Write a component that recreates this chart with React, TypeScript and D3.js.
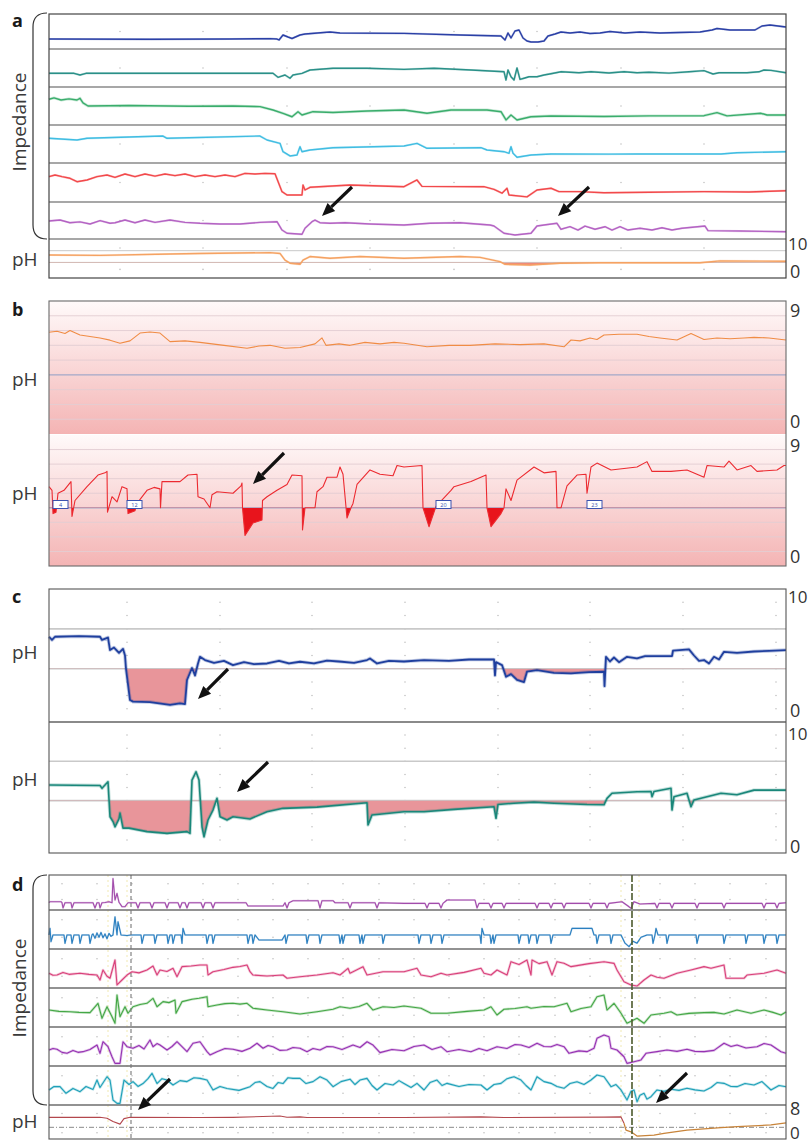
import * as d3 from "d3";

type P = [number, number];

// time in seconds from the start of each excerpt (same width for all panels)
const tDomain: [number, number] = [0, 737];

// ---------- panel a : six impedance channels (0-40 units) + pH ----------
const aCh1: P[] = [[0,11.4],[101,11.1],[181,11.4],[221,11.8],[228,11.4],[230,10.3],[234,16],[239,13.7],[243,12],[251,16],[256,17.1],[281,19.4],[291,18.3],[355,17.9],[411,16],[452,14.9],[456,10.3],[459,18.3],[462,12.6],[466,20.6],[470,21.7],[474,12.6],[478,9.1],[482,8],[489,8],[495,9.1],[499,14.9],[506,17.1],[512,19.4],[521,18.3],[531,19.4],[541,17.7],[551,18.3],[561,20],[576,18.3],[591,19.4],[611,18.3],[631,18.9],[651,19.4],[663,21.7],[668,23.4],[681,21.7],[706,21.7],[713,26.3],[721,27.4],[737,25.1]];
const aCh2: P[] = [[0,14.4],[25,14.4],[31,12.6],[37,14.4],[150,14.4],[224,14.4],[229,10.2],[236,12.6],[241,9.2],[244,12.6],[253,14.4],[261,17.9],[284,19.7],[318,19.7],[355,18.6],[385,19.7],[422,17.9],[455,16.1],[457,7.4],[459,17.9],[462,10.8],[465,7.4],[468,20],[471,8],[475,9.2],[480,10.8],[488,10.8],[495,12.6],[502,14],[512,16.1],[530,15],[542,16.1],[560,14.8],[575,16.1],[588,15],[600,15.6],[620,14.6],[640,16],[655,17.2],[664,13.7],[670,15],[698,15],[710,16],[715,17.9],[722,17.5],[737,15]];
const aCh3: P[] = [[0,27.1],[5,28.5],[12,26.3],[20,27.5],[28,26.3],[31,28.1],[34,23.2],[39,20],[80,20.5],[140,19.8],[184,20],[211,19.3],[224,15.8],[234,12.3],[243,8.7],[249,14],[253,10.5],[264,14],[284,13.2],[318,14.7],[355,15.8],[378,12.3],[402,15.8],[438,15.8],[452,14],[457,5.3],[462,10.5],[468,5.3],[482,8.7],[502,9.5],[555,9],[600,9.6],[655,9.8],[668,13],[678,9.6],[712,12.3],[718,10.5],[737,10.5]];
const aCh4: P[] = [[0,26],[28,24.2],[38,26],[114,28.4],[118,26],[211,28.4],[218,24.2],[231,20.7],[234,11.9],[241,7.4],[248,8.4],[251,17.2],[253,11.9],[261,13.7],[284,16.1],[355,17.9],[368,20.7],[378,15.5],[432,16.1],[438,13.7],[455,11.9],[460,10.2],[462,17.2],[464,10.2],[468,6],[482,8.4],[502,9.5],[560,9.3],[588,9.5],[630,9.5],[672,9.5],[688,10.8],[737,11.9]];
const aCh5: P[] = [[0,26],[6,27.7],[13,26],[21,24.3],[28,20.8],[38,22.6],[48,26],[58,27.7],[66,25.3],[76,28.7],[86,26],[96,28.7],[106,26.5],[116,28.7],[126,27],[136,28.7],[146,26],[156,27.7],[166,26],[176,27.7],[186,26],[196,29.4],[206,28.7],[216,29.4],[226,29],[233,10.6],[238,7.2],[253,7.2],[254,17.4],[256,12.3],[261,15.1],[301,17.4],[355,15.7],[368,22.6],[373,16],[435,15.7],[445,13],[453,9],[458,14.1],[460,7.2],[478,5.3],[488,12.3],[502,14.1],[510,10.6],[530,10.6],[555,9.5],[600,10],[655,10.6],[700,10.3],[737,11.6]];
const aCh6: P[] = [[0,19.5],[11,20.5],[21,17.6],[31,18.5],[41,16.2],[51,19.8],[61,17],[66,17.6],[76,20.5],[86,17.6],[96,20.5],[106,18],[121,20.5],[136,18],[151,17],[171,16.2],[191,16.2],[211,18],[228,18.7],[233,9.7],[238,6.2],[253,5.1],[256,11.6],[263,18.7],[266,20.5],[271,17.6],[281,17],[296,17.6],[321,16.2],[355,15.1],[381,17],[411,17.6],[441,15.1],[445,14],[455,6.2],[466,4.3],[482,6.2],[488,14],[495,15.1],[508,17],[512,10.5],[521,13.3],[529,9.7],[536,14],[546,10.5],[556,13.3],[563,9.7],[571,13.3],[579,9.7],[591,11.6],[603,9.7],[613,12.2],[623,9.7],[633,11.6],[656,14],[659,9],[691,8.6],[737,7.9]];
const aPH: P[] = [[0,5.9],[51,5.8],[121,6.15],[151,6.3],[221,6.5],[231,6.3],[236,4.6],[241,3.8],[251,3.5],[254,4.6],[261,5.5],[281,5.05],[311,5.5],[355,5.05],[411,5.5],[431,5.3],[451,4.2],[456,3.5],[481,3.3],[511,3.8],[551,3.9],[651,3.9],[671,4.4],[737,4.3]];
const aColors = ["#2b40a6", "#2a9088", "#3aad6c", "#41bde2", "#f2494b", "#b463c3"];
const aGridT = [71, 154, 238, 321, 405, 488, 572, 655];

// ---------- panel b : two pH channels (0-9) ----------
const bUpper: P[] = [[0,6.88],[8,6.95],[16,6.8],[21,7.0],[31,6.7],[41,6.6],[51,6.5],[61,6.35],[71,6.14],[81,6.3],[91,6.83],[101,6.9],[111,6.83],[121,6.25],[136,6.3],[151,6.2],[175,6.0],[198,5.8],[210,5.95],[221,6.0],[236,5.8],[251,5.85],[266,6.1],[273,6.5],[277,6.0],[290,6.1],[301,6.0],[316,6.2],[331,6.1],[345,6.2],[355,6.14],[378,5.9],[400,6.0],[421,6.0],[446,6.1],[471,6.05],[495,6.1],[515,5.9],[522,6.36],[531,6.3],[541,6.5],[548,6.4],[555,6.7],[570,6.75],[588,6.75],[600,6.6],[611,6.5],[628,6.36],[642,6.8],[655,6.4],[668,6.5],[681,6.45],[695,6.5],[705,6.54],[720,6.5],[737,6.36]];
const bLower: P[] = [[0,5.45],[3,5.2],[4,3.6],[7,3.7],[9,5.0],[15,5.2],[22,5.8],[23,3.4],[26,4.5],[38,5.45],[49,6.25],[56,6.4],[58,6.5],[58.5,3.7],[63,4.76],[68,4.4],[73,5.45],[78,5.3],[79,3.6],[86,3.8],[88,4.3],[98,5.2],[105,5.4],[111,5.3],[111.5,4.0],[113,5.8],[131,5.8],[139,6.25],[148,6.3],[149,4.76],[155,4.6],[161,4.0],[163,4.9],[168,5.1],[184,5.0],[192,5.5],[193,5.7],[193.5,4.0],[196,2.1],[204,2.95],[213,3.16],[213.5,4.5],[218,4.76],[228,5.2],[238,5.6],[243,6.25],[253,6.2],[253.5,2.47],[256,4.0],[266,4.0],[268,5.1],[274,5.45],[278,6.1],[288,6.1],[291,6.8],[294,6.3],[298,3.3],[302,4.0],[304,4.3],[308,5.6],[321,6.6],[331,6.3],[344,6.2],[348,6.9],[355,6.8],[373,6.9],[374,4.0],[380,2.7],[387,4.1],[402,5.2],[405,5.45],[422,5.8],[437,6.25],[438,4.0],[442,2.7],[452,3.6],[455,4.0],[457,5.3],[462,4.5],[468,5.9],[485,6.8],[495,6.4],[507,6.5],[508,4.0],[512,4.0],[518,5.5],[528,6.25],[537,6.3],[538,5.0],[542,6.8],[548,7.07],[562,6.6],[588,6.8],[598,7.17],[603,6.5],[622,6.5],[638,6.6],[655,6.1],[658,6.9],[675,6.8],[680,7.2],[688,6.6],[702,6.9],[708,6.5],[728,6.6],[735,6.9],[737,6.9]];
const bMarkers = [{ t: 4, label: "4" }, { t: 78, label: "12" }, { t: 387, label: "20" }, { t: 538, label: "23" }];
const bLevels = [1, 2, 3, 5, 6, 7, 8];

// ---------- panel c : two pH channels (0-10) ----------
const cUpper: P[] = [[0,6.41],[3,6.17],[6,6.41],[30,6.45],[51,6.41],[53,6.17],[59,6.35],[61,5.41],[65,5.6],[70,5.2],[74,5.5],[76,5.0],[77,4.0],[81,1.65],[84,1.53],[101,1.5],[121,1.28],[131,1.4],[136,1.35],[138,3.16],[143,4.06],[146,3.5],[149,4.4],[151,4.9],[156,4.66],[165,4.45],[175,4.6],[184,4.28],[195,4.5],[205,4.35],[218,4.4],[230,4.6],[240,4.4],[251,4.53],[265,4.4],[278,4.62],[290,4.55],[305,4.45],[318,4.66],[321,4.78],[328,4.4],[340,4.6],[355,4.55],[375,4.65],[400,4.6],[420,4.7],[445,4.7],[446,3.5],[447,4.5],[453,4.28],[457,3.4],[462,3.6],[468,3.16],[475,3.0],[478,3.78],[488,3.9],[505,3.7],[522,3.66],[540,3.75],[555,3.78],[555.5,2.7],[557,4.9],[561,4.55],[565,4.85],[570,4.5],[578,4.9],[588,4.78],[596,4.95],[605,4.96],[623,4.96],[624,5.36],[640,5.46],[645,5.0],[650,4.6],[655,4.66],[660,4.4],[665,4.9],[670,4.7],[675,5.28],[688,5.2],[705,5.3],[720,5.35],[737,5.41]];
const cLower: P[] = [[0,5.19],[51,5.15],[53,4.94],[59,5.44],[61,2.77],[64,2.4],[66,2.0],[70,2.6],[71,3.05],[74,1.9],[80,1.9],[98,1.63],[118,1.5],[138,1.63],[141,1.5],[143,5.57],[147,6.2],[150,5.57],[153,2.0],[155,1.24],[159,2.52],[164,3.28],[168,4.17],[171,2.77],[178,2.52],[184,2.77],[201,2.6],[218,3.15],[234,3.41],[268,3.5],[318,3.84],[319,2.14],[323,2.9],[355,3.15],[375,3.15],[405,3.33],[445,3.53],[447,2.65],[449,3.7],[465,3.8],[485,3.88],[505,3.8],[538,3.7],[555,3.68],[558,4.17],[563,4.56],[588,4.68],[602,4.7],[603,4.3],[605,4.7],[622,4.94],[623,3.28],[625,4.3],[638,4.56],[642,3.53],[645,4.05],[672,4.56],[688,4.45],[705,4.8],[737,4.8]];
const cGridT = [78, 171, 263, 356, 449, 541, 634, 727];

// ---------- panel d : six impedance channels (0-40 units) + pH (0-8) ----------
const dCh1: P[] = [[0,8.3],[1,9.5],[12,9.5],[13,8.3],[14,2.3],[16,8.3],[22,8.3],[23,2.3],[25,8.3],[44,8.3],[46,2.3],[48,8.3],[50,8.3],[51,2.3],[53,8.3],[56,8.5],[60,9.5],[63,8.3],[64,36],[66,11.4],[68,19],[70,8.8],[73,3.8],[76,3.8],[79,8.3],[87,8.3],[89,2.3],[91,8.3],[101,8.3],[103,2.3],[105,8.3],[116,8.3],[118,2.3],[120,8.3],[129,8.3],[131,2.3],[133,8.3],[136,8.3],[138,2.3],[140,8.3],[152,8.3],[154,2.3],[156,8.3],[162,8.3],[164,2.3],[166,8.3],[197,8.3],[199,4.6],[234,4.6],[236,8.3],[238,2.3],[240,8.3],[244,10.6],[269,10.6],[271,2.3],[273,10.6],[284,10.6],[286,8.3],[299,8.3],[301,2.3],[303,8.3],[326,8.3],[328,2.3],[330,8.3],[355,7.6],[376,7.6],[378,2.3],[380,7.6],[390,7.6],[392,2.3],[394,7.6],[398,11.4],[426,11.4],[428,2.3],[430,7.6],[440,7.6],[442,2.3],[444,7.6],[453,7.6],[455,2.3],[457,7.6],[486,7.6],[488,2.3],[490,7.6],[500,7.6],[502,2.3],[504,7.6],[513,7.6],[515,2.3],[517,7.6],[540,7.6],[542,2.3],[544,7.6],[556,7.6],[558,2.3],[560,7.6],[573,9.5],[579,4.6],[582,1.9],[585,9.5],[591,6.8],[606,7.6],[608,2.3],[610,7.6],[621,7.6],[623,2.3],[625,7.6],[646,7.6],[648,2.3],[650,7.6],[673,7.6],[675,2.3],[677,7.6],[713,7.6],[715,2.3],[717,7.6],[726,7.6],[728,2.3],[730,7.6],[737,8.3]];
const dCh2: P[] = [[0,14.4],[1,21.2],[2,7.5],[4,14.4],[15,14.4],[16,5.8],[18,14.4],[22,14.4],[23,5.8],[25,14.4],[30,14.4],[31,5.8],[33,14.4],[40,14.4],[41,5.8],[43,14.4],[44,15.5],[46,11],[48,16.5],[50,12],[52,17],[54,11.5],[56,15.5],[58,10.5],[60,16],[62,13],[64,14.4],[66,33],[68,14.4],[69,28],[72,14.4],[78,13.8],[82,14.4],[92,14.4],[93,5.8],[95,14.4],[105,14.4],[106,5.8],[108,14.4],[118,14.4],[119,5.8],[121,14.4],[123,14.4],[124,5.8],[126,14.4],[132,14.4],[133,5.8],[134,21.2],[136,14.4],[157,14.4],[158,5.8],[160,14.4],[163,14.4],[164,5.8],[166,14.4],[198,14.4],[199,5.8],[201,14.4],[203,14.4],[204,5.8],[206,14.4],[210,9.2],[233,9.2],[236,14.4],[237,5.8],[239,14.4],[257,14.4],[258,5.8],[260,14.4],[270,14.4],[271,5.8],[273,14.4],[290,14.4],[291,5.8],[293,14.4],[294,5.8],[296,14.4],[310,14.4],[311,5.8],[313,14.4],[314,5.8],[316,14.4],[333,14.4],[334,5.8],[336,14.4],[355,14.4],[369,14.4],[370,5.8],[372,14.4],[381,14.4],[382,5.8],[384,14.4],[392,14.4],[393,5.8],[395,14.4],[431,14.4],[432,5.8],[433,21.2],[435,14.4],[441,14.4],[442,5.8],[444,14.4],[445,5.8],[447,14.4],[469,14.4],[470,5.8],[472,14.4],[479,14.4],[480,5.8],[482,14.4],[487,14.4],[488,5.8],[490,14.4],[501,14.4],[502,5.8],[504,14.4],[521,14.4],[523,21.2],[543,21.2],[545,14.4],[547,14.4],[548,5.8],[550,14.4],[561,14.4],[562,5.8],[564,14.4],[572,14.4],[576,6],[580,2.4],[584,8],[588,6],[592,12],[598,14.4],[603,14.4],[604,5.8],[606,14.4],[607,21.2],[609,14.4],[617,14.4],[618,5.8],[620,14.4],[647,14.4],[648,5.8],[650,14.4],[674,14.4],[675,5.8],[677,14.4],[696,14.4],[697,5.8],[699,14.4],[714,14.4],[715,5.8],[717,14.4],[727,14.4],[728,5.8],[730,14.4],[737,14.4]];
const dCh3: P[] = [[0,15.1],[4,13],[8,13.3],[14,16],[20,14],[31,15.1],[40,14],[48,13.3],[51,8.2],[54,18.5],[58,12],[61,10],[66,28.7],[68,3.1],[73,8.2],[78,13.3],[83,16.7],[90,15.5],[98,18.5],[104,22.6],[108,13.3],[111,18.5],[118,17],[124,20.2],[128,11.6],[133,21.9],[142,22.5],[151,23.6],[158,23.6],[159,13.3],[164,16.7],[175,19],[184,21.2],[191,22],[198,23.6],[201,16.7],[204,13.3],[218,12.3],[234,13.3],[238,10],[251,11.6],[268,13.3],[284,15.7],[291,13.3],[299,20.2],[301,15.1],[314,21.9],[318,13.3],[334,16.7],[355,16.7],[368,20.2],[372,13.3],[382,11.6],[392,15.1],[398,13.3],[415,16],[432,20.2],[435,15.1],[442,13.3],[448,18.5],[458,13.3],[462,27],[470,24],[478,28.7],[482,13.3],[483,28.7],[490,25],[498,27],[503,13.3],[508,27],[515,25.3],[522,21.9],[540,25],[555,27],[565,25.3],[568,18.5],[575,6.5],[582,3.1],[588,2],[595,8.2],[602,13.3],[608,11],[615,10],[628,15.1],[642,18.5],[655,21.9],[662,20.2],[675,23.6],[677,10],[695,10],[698,13.3],[715,15.1],[728,18.5],[737,15.1]];
const dCh4: P[] = [[0,17.4],[10,16],[21,15.7],[30,15],[41,14.7],[49,24.3],[53,8.9],[58,20.8],[63,10.6],[66,3.8],[68,32.8],[71,10.6],[76,20.8],[79,14.1],[84,20.8],[91,23],[98,24.3],[104,29.4],[108,20.8],[114,26],[120,25],[126,27.7],[127,14.1],[133,26],[143,28.4],[150,29.5],[158,31.1],[159,20.8],[168,22.6],[176,24],[184,24.3],[191,23.5],[198,24.3],[204,19.2],[218,17.4],[234,15.7],[251,13.3],[268,15.7],[284,18.2],[291,20.8],[301,19.2],[310,21],[318,24.3],[324,17.4],[334,20.8],[345,20],[355,21.5],[372,19.2],[382,14.1],[398,14.1],[418,16],[435,17.4],[442,20.8],[448,12.3],[455,18.2],[466,19],[478,20.8],[482,19.2],[495,21],[505,20.8],[518,24.3],[522,15.7],[532,19],[542,20.8],[548,31.1],[555,32.8],[558,17.4],[565,24.3],[572,14.1],[578,3.8],[588,8.9],[595,3.8],[602,12.3],[615,14.1],[622,15.7],[628,12.3],[640,14],[655,14.7],[665,15],[675,13.3],[688,17.4],[702,14.1],[715,17.4],[724,15],[732,12.3],[737,15.4]];
const dCh5: P[] = [[0,16.4],[4,18],[8,17.1],[13,14],[18,13],[24,16],[29,14],[34,14.7],[41,17],[48,21.5],[51,13],[54,24.9],[59,19.8],[63,9.5],[66,2.7],[71,2.7],[74,24.9],[78,19.8],[84,18.2],[90,21],[95,17.5],[101,26.7],[104,19.8],[108,23],[111,21.5],[118,16.4],[123,20],[128,24.9],[133,19.8],[138,14.7],[144,23.3],[151,24.9],[158,14.7],[161,11.3],[168,14.7],[176,18],[184,17.1],[193,15],[201,18.2],[208,23.3],[214,18.2],[219,21],[224,19.8],[231,16],[238,16.4],[244,19],[251,18.2],[258,14.7],[264,18],[271,16.4],[278,20],[284,19.8],[293,17],[304,21.5],[311,19],[318,24.9],[324,21.5],[331,13.7],[343,17],[355,15.7],[365,20],[375,21.5],[383,17],[392,19.8],[398,14.7],[410,17],[422,14.7],[430,18],[438,15.7],[448,19.8],[458,18],[466,22],[472,21.5],[480,19],[488,23.3],[495,20],[502,19.8],[508,22],[515,19.8],[520,13],[530,15.5],[538,14.7],[545,18.2],[548,28.4],[555,31.8],[560,30],[562,18.2],[568,16.4],[575,9.5],[578,2.7],[585,4.4],[592,6.2],[597,13],[608,14.7],[618,16.4],[628,15],[638,17.1],[646,15],[655,14.7],[665,16],[675,23.3],[682,20],[688,21.5],[697,18.5],[708,19.8],[715,23],[722,21.5],[732,14.7],[737,13]];
const dCh6: P[] = [[0,15.4],[5,19],[11,18.8],[17,12],[24,17],[31,13.7],[37,19],[44,16],[48,25.6],[51,18],[58,29],[61,25.6],[64,5.1],[68,1.7],[71,1.7],[75,25.6],[80,21],[84,24],[89,19],[94,22],[99,27],[103,32.5],[108,22],[113,27],[118,25.6],[124,20.5],[131,25],[138,24],[145,28],[151,27.3],[158,25.6],[164,15.4],[171,19],[178,17],[190,15],[201,18.8],[206,23],[211,24],[218,19],[224,17],[229,23],[234,22],[239,28],[244,27.3],[251,27.3],[257,22],[264,24],[271,29],[278,25.6],[284,18.8],[292,24],[301,26.5],[306,21],[311,25.6],[318,27.3],[323,20],[328,15.4],[336,22],[344,20.5],[350,25],[355,22],[362,18],[368,22.2],[375,15.4],[381,23],[388,25.6],[393,20],[398,22.2],[410,19],[420,21],[432,20.5],[438,15.4],[445,21],[452,22.2],[458,27],[465,29],[472,25.6],[477,20],[482,15.4],[488,29],[495,24],[502,22.2],[508,19],[515,17.1],[521,22],[528,23.9],[535,21],[542,25.6],[548,30.8],[555,29],[562,18.8],[567,21],[572,15.4],[578,5.1],[582,14],[585,15.4],[588,3.4],[591,10],[595,12],[598,6],[602,8.5],[608,15.4],[615,14],[622,16.1],[630,15],[638,17.1],[646,15.5],[655,14.4],[662,18],[668,23],[675,22.2],[682,19],[688,18.8],[696,22],[705,20.5],[713,24],[722,15.4],[730,20],[737,18.8]];
const dPHBefore: P[] = [[0,5.1],[51,5.1],[58,4.9],[64,4.1],[71,3.5],[75,4.8],[81,5.1],[151,5.05],[184,5.1],[231,5.4],[238,5.1],[251,5.2],[258,5.05],[355,5.05],[432,5.2],[455,5.05],[555,5.15],[572,5.2],[575,3.7]];
const dPHAfter: P[] = [[575,3.7],[577,2.1],[582,1.7],[588,0.7],[605,0.9],[615,1.3],[638,2.1],[672,2.7],[688,2.9],[722,3.3],[737,3.8]];
const dColors = ["#a24cab", "#2a7fc0", "#d9417b", "#44a746", "#9632b2", "#1ea0b8"];
const dGridT = [13, 48, 83, 119, 154, 189, 224, 259, 294, 330, 365, 400, 435, 470, 506, 541, 576, 611, 646, 681, 717];
const dMarkT = [82, 583];

// ---------- layout ----------
const X0 = 49;
const X1 = 786;
const aEdges = [14, 49, 87, 125, 163, 202, 239, 278];
const dEdges = [875, 910, 949, 988, 1027, 1066, 1105, 1139];
const FONT = "'Open Sans', 'DejaVu Sans', sans-serif";

const x = d3.scaleLinear().domain(tDomain).range([X0, X1]);
const band = (top: number, bottom: number, max: number) =>
  d3.scaleLinear().domain([0, max]).range([bottom, top]);

type Scale = d3.ScaleLinear<number, number>;

const Trace = ({ data, y, color, width = 1.3, fuzz = 0 }: { data: P[]; y: Scale; color: string; width?: number; fuzz?: number }) => {
  const gen = d3.line<P>().x((d) => x(d[0])).y((d) => y(d[1]));
  const d = gen(data) ?? "";
  return (
    <g>
      {fuzz > 0 && <path d={d} fill="none" stroke={color} strokeWidth={fuzz} strokeOpacity={0.28} strokeLinejoin="round" />}
      <path d={d} fill="none" stroke={color} strokeWidth={width} strokeLinejoin="round" />
    </g>
  );
};

// area between a trace and a pH threshold, only where the trace is below it
const BelowFill = ({ id, data, y, level, color, bottom }: { id: string; data: P[]; y: Scale; level: number; color: string; bottom: number }) => {
  const area = d3.area<P>().x((d) => x(d[0])).y0(y(level)).y1((d) => y(d[1]));
  return (
    <g>
      <clipPath id={id}>
        <rect x={X0} y={y(level)} width={X1 - X0} height={bottom - y(level)} />
      </clipPath>
      <path d={area(data) ?? ""} fill={color} clipPath={`url(#${id})`} />
    </g>
  );
};

const Arrow = ({ t1, y1, t2, y2 }: { t1: number; y1: number; t2: number; y2: number }) => {
  const x1 = x(t1), x2 = x(t2);
  const a = Math.atan2(y2 - y1, x2 - x1);
  const L = 13, W = 5.5;
  const bx = x2 - L * Math.cos(a), by = y2 - L * Math.sin(a);
  const px = -Math.sin(a) * W, py = Math.cos(a) * W;
  return (
    <g>
      <line x1={x1} y1={y1} x2={bx} y2={by} stroke="#111" strokeWidth={3.2} />
      <path d={`M${x2},${y2}L${bx + px},${by + py}L${bx - px},${by - py}Z`} fill="#111" />
    </g>
  );
};

const Brace = ({ top, bottom }: { top: number; bottom: number }) => (
  <path d={`M47,${top}Q33,${top} 33,${top + 14}L33,${bottom - 14}Q33,${bottom} 47,${bottom}`} fill="none" stroke="#333" strokeWidth={1.2} />
);

const Letter = ({ y, s }: { y: number; s: string }) => (
  <text x={12} y={y} fontFamily={FONT} fontWeight={700} fontSize={18} fill="#1a1a1a">{s}</text>
);
const Label = ({ y, s }: { y: number; s: string }) => (
  <text x={12} y={y} fontFamily={FONT} fontSize={19} fill="#3a3a3a">{s}</text>
);
const RightNum = ({ y, s }: { y: number; s: string }) => (
  <text x={s.length > 1 ? 788 : 790} y={y} fontFamily={FONT} fontSize={s.length > 1 ? 17 : 18} fill="#333">{s}</text>
);
const Impedance = ({ cy }: { cy: number }) => (
  <text transform={`translate(26,${cy}) rotate(-90)`} textAnchor="middle" fontFamily={FONT} fontSize={19} fill="#3a3a3a">Impedance</text>
);

const PanelA = () => {
  const chans = [aCh1, aCh2, aCh3, aCh4, aCh5, aCh6];
  const ys = chans.map((_, i) => band(aEdges[i], aEdges[i + 1], 40));
  const yPH = band(aEdges[6], aEdges[7], 10);
  return (
    <g>
      {aGridT.map((t) =>
        [...ys.map((s) => s(20)), yPH(7.7), yPH(2.2)].map((cy, j) => (
          <circle key={`${t}-${j}`} cx={x(t)} cy={cy} r={0.8} fill="#c4c4c4" />
        ))
      )}
      {[7, 4].map((v) => (
        <line key={v} x1={X0} x2={X1} y1={yPH(v)} y2={yPH(v)} stroke="#c8c8c8" strokeWidth={1} />
      ))}
      {aEdges.slice(1, 7).map((e) => (
        <line key={e} x1={X0} x2={X1} y1={e} y2={e} stroke="#8a8a8a" strokeWidth={1.6} />
      ))}
      {chans.map((c, i) => (
        <Trace key={i} data={c} y={ys[i]} color={aColors[i]} width={1.4} fuzz={i === 2 ? 2.8 : 2.2} />
      ))}
      <BelowFill id="fa" data={aPH} y={yPH} level={4} color="#f08a7a" bottom={aEdges[7]} />
      <Trace data={aPH} y={yPH} color="#f5a262" width={1.4} fuzz={2.2} />
      <rect x={X0} y={aEdges[0]} width={X1 - X0} height={aEdges[7] - aEdges[0]} fill="none" stroke="#444" strokeWidth={1.2} />
      <Arrow t1={303} y1={187} t2={273} y2={216} />
      <Arrow t1={540} y1={187} t2={509} y2={216} />
      <Letter y={27} s="a" />
      <Brace top={13} bottom={239} />
      <Impedance cy={122} />
      <Label y={266} s="pH" />
      <RightNum y={250} s="10" />
      <RightNum y={278} s="0" />
    </g>
  );
};

const PanelB = () => {
  const yU = band(301, 434, 9);
  const yL = band(435, 566, 9);
  return (
    <g>
      <defs>
        <linearGradient id="pinkfade" x1="0" y1="0" x2="0" y2="1">
          <stop offset="0" stopColor="#fffafa" />
          <stop offset="1" stopColor="#f4b4b4" />
        </linearGradient>
      </defs>
      <rect x={X0} y={301} width={X1 - X0} height={133} fill="url(#pinkfade)" />
      <rect x={X0} y={435} width={X1 - X0} height={131} fill="url(#pinkfade)" />
      {[yU, yL].map((s, k) => (
        <g key={k}>
          {bLevels.map((v) => (
            <line key={v} x1={X0} x2={X1} y1={s(v)} y2={s(v)} stroke="#e2cdd2" strokeWidth={0.9} />
          ))}
          <line x1={X0} x2={X1} y1={s(4)} y2={s(4)} stroke="#a3a9c9" strokeWidth={1.3} />
        </g>
      ))}
      <Trace data={bUpper} y={yU} color="#f08c45" width={1.1} />
      <BelowFill id="fb" data={bLower} y={yL} level={4} color="#e8141c" bottom={566} />
      <Trace data={bLower} y={yL} color="#ec2a30" width={1.1} />
      {bMarkers.map((m) => (
        <g key={m.label}>
          <rect x={x(m.t)} y={yL(4.5)} width={x(m.t + 15) - x(m.t)} height={yL(3.95) - yL(4.5)} fill="#fff" stroke="#3b52b0" strokeWidth={1} />
          <text x={x(m.t + 7.5)} y={yL(3.95) - 1.8} textAnchor="middle" fontFamily={FONT} fontSize={5.5} fill="#3b52b0">{m.label}</text>
        </g>
      ))}
      <rect x={X0} y={301} width={X1 - X0} height={265} fill="none" stroke="#6a6a6a" strokeWidth={1.1} />
      <Arrow t1={235} y1={453} t2={204} y2={484} />
      <Letter y={316} s="b" />
      <Label y={386} s="pH" />
      <Label y={500} s="pH" />
      <RightNum y={317} s="9" />
      <RightNum y={428} s="0" />
      <RightNum y={452} s="9" />
      <RightNum y={563} s="0" />
    </g>
  );
};

const PanelC = () => {
  const yU = band(589, 722, 10);
  const yL = band(722, 853, 10);
  return (
    <g>
      {[yU, yL].map((s, k) => (
        <g key={k}>
          {cGridT.map((t) =>
            d3.range(1, 10).map((v) => <circle key={`${t}-${v}`} cx={x(t)} cy={s(v)} r={0.75} fill="#bdbdbd" />)
          )}
          {[7, 4].map((v) => (
            <line key={v} x1={X0} x2={X1} y1={s(v)} y2={s(v)} stroke="#c9c9c9" strokeWidth={1.6} />
          ))}
        </g>
      ))}
      <BelowFill id="fc1" data={cUpper} y={yU} level={4} color="#e8959a" bottom={722} />
      <BelowFill id="fc2" data={cLower} y={yL} level={4} color="#e8959a" bottom={853} />
      <Trace data={cUpper} y={yU} color="#1f3f9e" width={1.8} fuzz={3.6} />
      <Trace data={cLower} y={yL} color="#1a877a" width={1.6} fuzz={3.4} />
      <line x1={X0} x2={X1} y1={722} y2={722} stroke="#8a8a8a" strokeWidth={2} />
      <rect x={X0} y={589} width={X1 - X0} height={264} fill="none" stroke="#555" strokeWidth={1.1} />
      <Arrow t1={179} y1={669} t2={149} y2={699} />
      <Arrow t1={219} y1={762} t2={188} y2={792} />
      <Letter y={603} s="c" />
      <Label y={659} s="pH" />
      <Label y={786} s="pH" />
      <RightNum y={603} s="10" />
      <RightNum y={717} s="0" />
      <RightNum y={740} s="10" />
      <RightNum y={853} s="0" />
    </g>
  );
};

const PanelD = () => {
  const chans = [dCh1, dCh2, dCh3, dCh4, dCh5, dCh6];
  const ys = chans.map((_, i) => band(dEdges[i], dEdges[i + 1], 40));
  const yPH = band(dEdges[6], dEdges[7], 8);
  return (
    <g>
      {dGridT.map((t) =>
        [...ys.flatMap((s) => [s(12), s(30)]), yPH(6), yPH(1.5)].map((cy, j) => (
          <circle key={`${t}-${j}`} cx={x(t)} cy={cy} r={0.75} fill="#bcbcbc" />
        ))
      )}
      {[59, 78, 572, 590].map((t) => (
        <line key={t} x1={x(t)} x2={x(t)} y1={dEdges[0]} y2={dEdges[7]} stroke="#eee3a0" strokeWidth={0.8} strokeDasharray="2,3" />
      ))}
      {dEdges.slice(1, 7).map((e) => (
        <line key={e} x1={X0} x2={X1} y1={e} y2={e} stroke="#6e6e6e" strokeWidth={1.3} />
      ))}
      <line x1={X0} x2={X1} y1={yPH(2.75)} y2={yPH(2.75)} stroke="#8a8a8a" strokeWidth={1} strokeDasharray="5,2,1,2" />
      {chans.map((c, i) => (
        <Trace key={i} data={c} y={ys[i]} color={dColors[i]} width={1.1} fuzz={i >= 2 ? 2.6 : 1.8} />
      ))}
      <Trace data={dPHBefore} y={yPH} color="#b3474d" width={1.1} />
      <Trace data={dPHAfter} y={yPH} color="#c8843a" width={1.3} />
      <line x1={x(dMarkT[0])} x2={x(dMarkT[0])} y1={dEdges[0]} y2={dEdges[7]} stroke="#777" strokeWidth={1.1} strokeDasharray="4,3" />
      <line x1={x(dMarkT[1])} x2={x(dMarkT[1])} y1={dEdges[0]} y2={dEdges[7]} stroke="#4d5a2c" strokeWidth={1.6} strokeDasharray="7,2" />
      <rect x={X0} y={dEdges[0]} width={X1 - X0} height={dEdges[7] - dEdges[0]} fill="none" stroke="#555" strokeWidth={1.1} />
      <Arrow t1={121} y1={1079} t2={89} y2={1110} />
      <Arrow t1={638} y1={1073} t2={607} y2={1103} />
      <Letter y={891} s="d" />
      <Brace top={875} bottom={1105} />
      <Impedance cy={988} />
      <Label y={1128} s="pH" />
      <RightNum y={1115} s="8" />
      <text x={790} y={1139} fontFamily={FONT} fontSize={17} fill="#333">0</text>
    </g>
  );
};

export default function App() {
  return (
    <svg
      width={809}
      height={1143}
      viewBox="0 0 809 1143"
      style={{ position: "absolute", left: 0, top: 0, background: "#fff" }}
    >
      <rect width={809} height={1143} fill="#fff" />
      <PanelA />
      <PanelB />
      <PanelC />
      <PanelD />
    </svg>
  );
}
